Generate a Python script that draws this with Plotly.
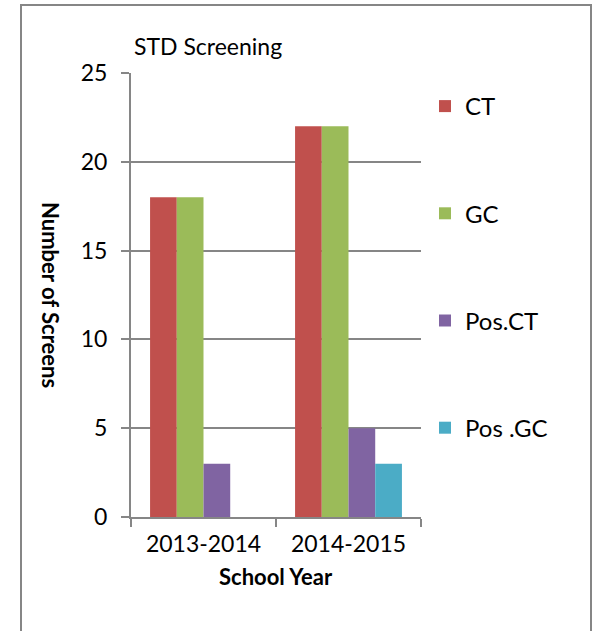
import plotly.graph_objects as go

years = ["2013-2014", "2014-2015"]
series_names = ["CT", "GC", "Pos.CT", "Pos .GC"]
ct = [18, 22]
gc = [18, 22]
pos_ct = [3, 5]
pos_gc = [0, 3]
colors = ["#C0504D", "#9BBB59", "#8064A2", "#4BACC6"]
y_ticks = [0, 5, 10, 15, 20, 25]

FONT = "Lato"
W, H = 597, 631
L, R, T, B = 131, 176, 73, 114
pw, ph = W - L - R, H - T - B

def px_x(x):
    return (x - L) / pw

def px_y(y):
    return (H - B - y) / ph

fig = go.Figure()
for i, (name, vals) in enumerate(zip(series_names, [ct, gc, pos_ct, pos_gc])):
    fig.add_trace(go.Bar(x=years, y=vals, name=name, marker_color=colors[i],
                         marker_line_width=0, legendgroup=name))

fig.update_layout(
    width=W, height=H,
    margin=dict(l=L, r=R, t=T, b=B, pad=0),
    paper_bgcolor="white", plot_bgcolor="white",
    font=dict(family=FONT, size=23, color="black"),
    barmode="group", bargap=0.263, bargroupgap=0,
    showlegend=True,
    legend=dict(x=px_x(425), y=px_y(84), xanchor="left", yanchor="top",
                traceorder="grouped", tracegroupgap=73,
                font=dict(family=FONT, size=24), bgcolor="rgba(0,0,0,0)",
                itemwidth=30),
    xaxis=dict(showline=True, linecolor="#868686", linewidth=2,
               ticks="outside", ticklen=8, tickcolor="#868686", tickwidth=2,
               tickson="boundaries", showgrid=False,
               tickfont=dict(family=FONT, size=23), ticklabelstandoff=5),
    yaxis=dict(range=[0, 25], tickvals=y_ticks, showline=True, linecolor="#868686",
               linewidth=2, ticks="outside", ticklen=8, tickcolor="#868686", tickwidth=2,
               showgrid=True, gridcolor="#868686", gridwidth=2, zeroline=False,
               tickfont=dict(family=FONT, size=23), ticklabelstandoff=9),
    annotations=[
        dict(text="STD Screening", x=px_x(132), y=px_y(46), xref="paper", yref="paper",
             xanchor="left", yanchor="middle", showarrow=False,
             font=dict(family=FONT, size=23)),
        dict(text="<b>School Year</b>", x=px_x(276), y=px_y(576), xref="paper", yref="paper",
             xanchor="center", yanchor="middle", showarrow=False,
             font=dict(family=FONT, size=22)),
        dict(text="<b>Number of Screens</b>", x=px_x(51), y=px_y(295), xref="paper", yref="paper",
             xanchor="center", yanchor="middle", showarrow=False, textangle=90,
             font=dict(family=FONT, size=22)),
    ],
    shapes=[
        dict(type="rect", xref="paper", yref="paper",
             x0=px_x(21), x1=px_x(591), y0=px_y(660), y1=px_y(5),
             line=dict(color="#868686", width=2), fillcolor="rgba(0,0,0,0)", layer="below"),
    ],
)

fig.write_html("out.html", config={"displayModeBar": False},
               post_script="document.body.style.margin='0';")
